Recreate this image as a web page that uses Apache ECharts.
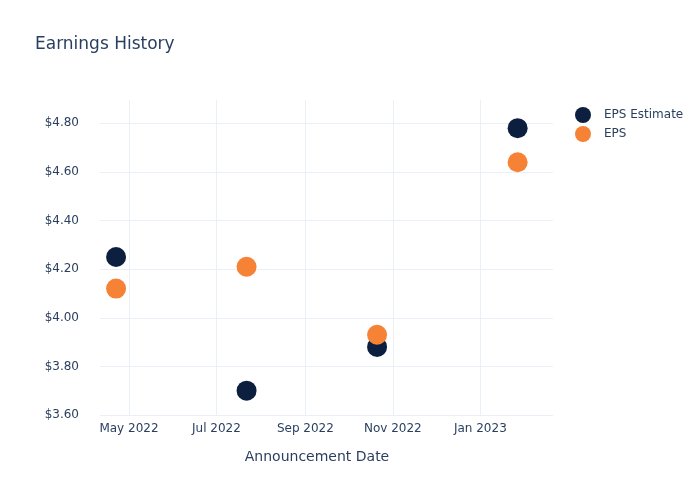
<!DOCTYPE html>
<html>
<head>
<meta charset="utf-8">
<script src="https://cdn.jsdelivr.net/npm/echarts@6/dist/echarts.min.js"></script>
<style>html,body{margin:0;padding:0;background:#fff}#c{width:700px;height:500px}</style>
</head>
<body>
<div id="c"></div>
<script>
const dates = ['2022-04-22', '2022-07-22', '2022-10-21', '2023-01-27'];
const epsEstimate = [4.25, 3.70, 3.88, 4.78];
const eps = [4.12, 4.21, 3.93, 4.64];
const monthNames = ['Jan','Feb','Mar','Apr','May','Jun','Jul','Aug','Sep','Oct','Nov','Dec'];

const ts = d => { const p = d.split('-').map(Number); return Date.UTC(p[0], p[1]-1, p[2]); };
const txt = '#2a3f5f';
const font = 'DejaVu Sans, sans-serif';

const chart = echarts.init(document.getElementById('c'), null, {renderer: 'canvas'});
chart.setOption({
  useUTC: true,
  animation: false,
  backgroundColor: '#fff',
  title: {
    text: 'Earnings History', left: 30, top: 31,
    textStyle: {color: txt, fontSize: 17, fontWeight: 'normal', fontFamily: font}
  },
  legend: {
    orient: 'vertical', left: 570, top: 102, itemWidth: 16, itemHeight: 16, itemGap: 3,
    icon: 'circle',
    textStyle: {color: txt, fontSize: 12, fontFamily: font, padding: [0, 0, 0, 8]},
    data: ['EPS Estimate', 'EPS']
  },
  grid: {left: 100, right: 147, top: 100, bottom: 85},
  xAxis: {
    type: 'time',
    min: Date.UTC(2022, 3, 10, 19), max: Date.UTC(2023, 1, 20, 16),
    minInterval: 61 * 86400000, maxInterval: 61 * 86400000,
    name: 'Announcement Date', nameLocation: 'middle', nameGap: 35,
    nameTextStyle: {color: txt, fontSize: 14, fontFamily: font, padding: [0, 19, 0, 0]},
    axisLine: {show: false}, axisTick: {show: false},
    axisLabel: {
      color: txt, fontSize: 12, fontFamily: font, margin: 8,
      showMinLabel: false, showMaxLabel: false, hideOverlap: false,
      formatter: v => { const d = new Date(v); return monthNames[d.getUTCMonth()] + ' ' + d.getUTCFullYear(); }
    },
    splitLine: {show: true, showMinLine: false, showMaxLine: false, lineStyle: {color: '#EBF0F8', width: 1}}
  },
  yAxis: {
    type: 'value', min: 3.6, max: 4.896, interval: 0.2,
    axisLine: {show: false}, axisTick: {show: false},
    axisLabel: {
      color: txt, fontSize: 12, fontFamily: font, margin: 21, showMaxLabel: false,
      formatter: v => '$' + v.toFixed(2)
    },
    splitLine: {show: true, showMaxLine: false, lineStyle: {color: '#EBF0F8', width: 1}}
  },
  series: [
    {
      name: 'EPS Estimate', type: 'scatter', symbolSize: 20,
      itemStyle: {color: '#0d1f3f', opacity: 1},
      data: dates.map((d, i) => [ts(d), epsEstimate[i]])
    },
    {
      name: 'EPS', type: 'scatter', symbolSize: 20,
      itemStyle: {color: '#f68236', opacity: 1},
      data: dates.map((d, i) => [ts(d), eps[i]])
    }
  ]
});
</script>
</body>
</html>
